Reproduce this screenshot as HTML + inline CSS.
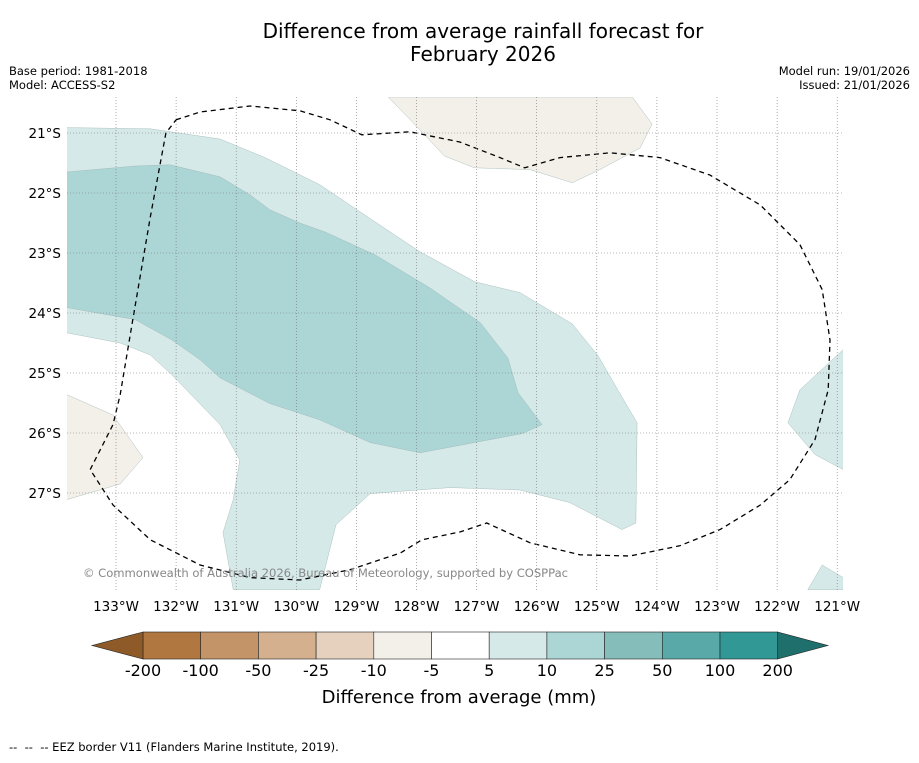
<!DOCTYPE html>
<html><head><meta charset="utf-8"><style>
body{margin:0;background:#fff;font-family:"Liberation Sans","DejaVu Sans",sans-serif;}
svg text{font-family:"DejaVu Sans","Liberation Sans",sans-serif;}
</style></head><body>
<svg id="chart" width="919" height="758" xmlns="http://www.w3.org/2000/svg">
<rect width="919" height="758" fill="#fff"/>
<text x="483" y="38" font-size="20" text-anchor="middle">Difference from average rainfall forecast for</text>
<text x="483" y="61" font-size="20" text-anchor="middle">February 2026</text>
<text x="9" y="75" font-size="11.5">Base period: 1981-2018</text>
<text x="9" y="89" font-size="11.5">Model: ACCESS-S2</text>
<text x="910" y="75" font-size="11.5" text-anchor="end">Model run: 19/01/2026</text>
<text x="910" y="89" font-size="11.5" text-anchor="end">Issued: 21/01/2026</text>
<defs><clipPath id="mapclip"><rect x="67" y="97" width="776" height="493"/></clipPath></defs>
<g id="map" clip-path="url(#mapclip)"></g>
<g id="axes"></g>
<g id="cbar"></g>
<text x="459" y="703" font-size="18" text-anchor="middle">Difference from average (mm)</text>
<text x="9" y="751" font-size="11.5" xml:space="preserve" style="white-space:pre">--  --  -- EEZ border V11 (Flanders Marine Institute, 2019).</text>
</svg>
<script>
const lonTicks=[133,132,131,130,129,128,127,126,125,124,123,122,121];
const latTicks=[21,22,23,24,25,26,27];
const lightTeal=[[133.82,20.91],[132.43,20.93],[131.27,21.10],[130.52,21.41],[129.61,21.86],[128.69,22.48],[127.94,22.98],[127.03,23.48],[126.28,23.66],[125.41,24.18],[124.98,24.71],[124.61,25.35],[124.33,25.83],[124.35,27.50],[124.58,27.61],[125.45,27.16],[126.28,26.95],[127.44,26.91],[128.77,27.01],[129.34,27.53],[129.61,28.61],[131.05,28.61],[131.22,27.66],[131.05,27.11],[130.94,26.45],[131.27,25.86],[132.07,25.03],[132.43,24.70],[132.93,24.50],[133.82,24.33]];
const midTeal=[[133.82,21.65],[132.68,21.55],[132.10,21.53],[131.27,21.73],[130.77,22.03],[130.44,22.28],[129.94,22.50],[129.52,22.65],[128.69,23.03],[127.78,23.58],[126.94,24.16],[126.48,24.75],[126.31,25.33],[125.91,25.86],[126.24,26.01],[127.94,26.33],[128.77,26.16],[129.61,25.78],[130.44,25.51],[131.27,25.08],[131.60,24.78],[132.07,24.45],[132.68,24.11],[133.82,23.91]];
const lightTealRight=[[120.90,24.61],[121.62,25.28],[121.82,25.83],[121.37,26.36],[120.90,26.61]];
const lightTealSE=[[121.25,28.20],[120.90,28.41],[120.90,28.61],[121.49,28.61]];
const beigeTop=[[128.47,20.40],[124.41,20.40],[124.08,20.85],[124.28,21.25],[124.95,21.61],[125.41,21.83],[126.11,21.61],[127.04,21.58],[127.54,21.38],[127.94,20.95]];
const beigeLeft=[[133.82,25.36],[133.05,25.70],[132.55,26.41],[132.93,26.85],[133.82,27.11]];
const eez=[[132.00,20.78],[131.60,20.65],[130.77,20.55],[129.94,20.63],[129.44,20.78],[128.91,21.03],[128.11,20.98],[127.28,21.15],[126.61,21.41],[126.20,21.58],[125.61,21.41],[124.78,21.33],[123.95,21.41],[123.12,21.70],[122.28,22.20],[121.62,22.86],[121.25,23.61],[121.12,24.45],[121.15,25.28],[121.37,26.11],[121.79,26.78],[122.28,27.20],[122.95,27.61],[123.62,27.88],[124.45,28.05],[125.28,28.03],[126.11,27.83],[126.83,27.50],[127.28,27.65],[127.91,27.78],[128.27,28.00],[129.11,28.28],[129.94,28.45],[130.77,28.41],[131.60,28.20],[132.43,27.78],[133.05,27.20],[133.43,26.61],[133.05,25.86],[132.93,25.36],[132.72,24.11],[132.43,22.40],[132.17,21.00],[132.00,20.78]];
const cbarLabels=["-200","-100","-50","-25","-10","-5","5","10","25","50","100","200"];
const cbarColors=["#b07840","#c29468","#d4b08f","#e5d1bd","#f3efe9","#ffffff","#d5e9e8","#acd5d5","#85bdbb","#5aa9a9","#319895"];
const NS="http://www.w3.org/2000/svg";
const xS=lon=>116+(133-lon)*60.1;
const yS=lat=>133+(lat-21)*60;
function mk(tag,attrs,parent){const e=document.createElementNS(NS,tag);for(const k in attrs)e.setAttribute(k,attrs[k]);parent.appendChild(e);return e;}
const pts=a=>a.map(p=>xS(p[0]).toFixed(1)+","+yS(p[1]).toFixed(1)).join(" ");
const map=document.getElementById("map");
const polys=[[lightTeal,"#d5e9e8","light-teal-contour"],[midTeal,"#acd5d5","mid-teal-contour"],[lightTealRight,"#d5e9e8","light-teal-east-contour"],[lightTealSE,"#d5e9e8","light-teal-southeast-contour"],[beigeTop,"#f3efe9","beige-north-contour"],[beigeLeft,"#f3efe9","beige-west-contour"]];
polys.forEach(([d,c,n])=>{
 const p=mk("polygon",{points:pts(d),fill:c,stroke:"#9cb5b3","stroke-width":0.4},map);
 
 
});
const ax=document.getElementById("axes");
lonTicks.forEach(l=>{
 const x=xS(l);
 const g=mk("line",{x1:x,x2:x,y1:97,y2:590,stroke:"#777","stroke-width":0.6,"stroke-dasharray":"1,2"},ax);
 
 
 const t=mk("text",{x:x,y:611,"font-size":13.5,"text-anchor":"middle"},ax);t.textContent=l+"°W";
 
 
});
latTicks.forEach(l=>{
 const y=yS(l);
 const g=mk("line",{x1:67,x2:843,y1:y,y2:y,stroke:"#777","stroke-width":0.6,"stroke-dasharray":"1,2"},ax);
 
 
 const t=mk("text",{x:61,y:y+5,"font-size":13.5,"text-anchor":"end"},ax);t.textContent=l+"°S";
 
 
});
const e=mk("polyline",{points:pts(eez),fill:"none",stroke:"#000","stroke-width":1.3,"stroke-dasharray":"5,4"},map);


const cp=mk("text",{x:83,y:577,"font-size":11.6,fill:"#888",textLength:485},map);cp.textContent="© Commonwealth of Australia 2026, Bureau of Meteorology, supported by COSPPac";


const cb=document.getElementById("cbar");
const x0=143,w=57.7,y0=632,h=27;
cbarColors.forEach((c,i)=>{
 const r=mk("rect",{x:x0+i*w,y:y0,width:w,height:h,fill:c,stroke:"#222","stroke-width":0.6},cb);
 
 
});
const tl=mk("polygon",{points:`${x0},${y0} 92,${y0+h/2} ${x0},${y0+h}`,fill:"#8d5a28",stroke:"#222","stroke-width":0.6},cb);


const xe=x0+cbarColors.length*w;
const tr=mk("polygon",{points:`${xe},${y0} 828,${y0+h/2} ${xe},${y0+h}`,fill:"#1f6f6c",stroke:"#222","stroke-width":0.6},cb);


cbarLabels.forEach((s,i)=>{
 const t=mk("text",{x:x0+i*w,y:676,"font-size":16,"text-anchor":"middle"},cb);t.textContent=s;
 
 
});
</script>
</body></html>
